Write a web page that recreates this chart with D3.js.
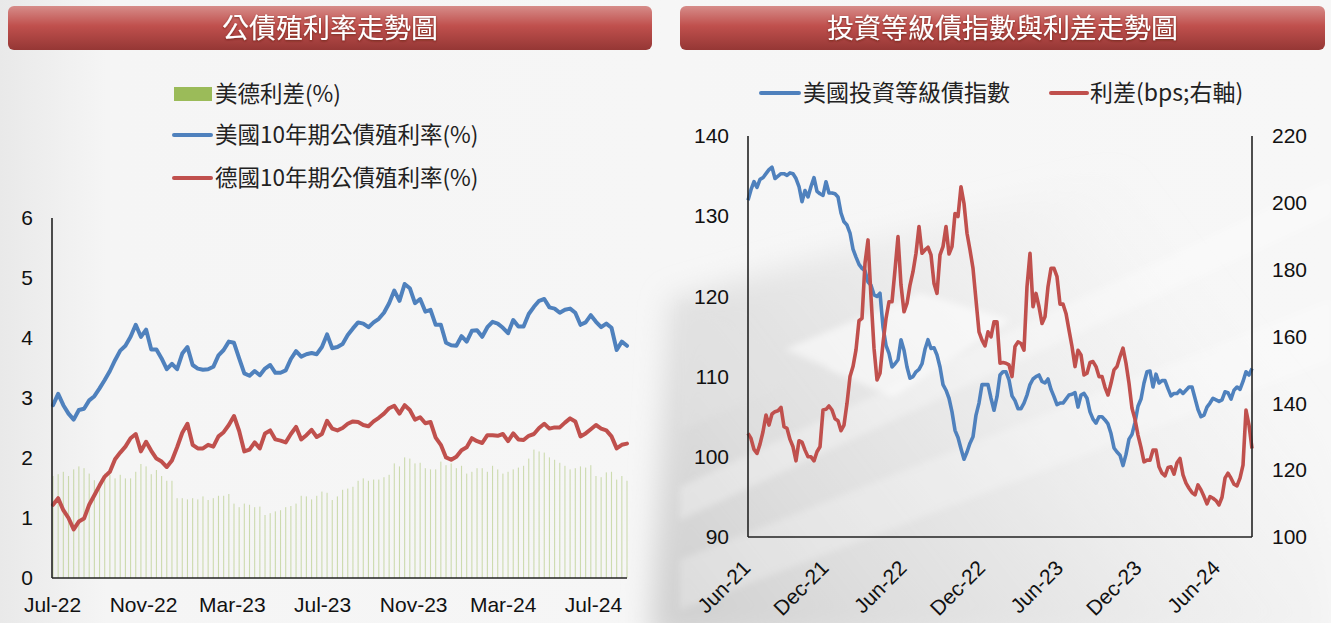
<!DOCTYPE html>
<html><head><meta charset="utf-8">
<script src="https://cdn.jsdelivr.net/npm/d3@7"></script>
<style>body{margin:0;background:#f3f3f3;overflow:hidden}svg{display:block}</style>
</head><body><svg id="c" width="1331" height="623"></svg>
<script>
// ---------- DATA: left chart (weekly, from 2022-07-01) ----------
const yieldStart = "2022-07-01";
const usYield = [
2.88,3.07,2.88,2.74,2.64,2.80,2.82,2.96,3.03,3.16,3.30,3.45,3.63,3.79,3.87,4.02,4.22,4.02,4.14,3.81,
3.81,3.66,3.48,3.57,3.48,3.74,3.85,3.55,3.49,3.47,3.48,3.52,3.71,3.80,3.94,3.92,3.66,3.41,3.37,3.45,
3.38,3.49,3.55,3.42,3.42,3.46,3.65,3.78,3.69,3.73,3.75,3.73,3.85,4.06,3.83,3.85,
3.90,4.05,4.16,4.26,4.24,4.18,4.26,4.32,4.42,4.58,4.79,4.62,4.90,4.83,4.58,4.65,4.44,4.47,4.22,4.22,
3.92,3.88,3.87,4.03,3.94,4.12,4.13,4.02,4.18,4.27,4.24,4.17,4.08,4.30,4.19,4.19,4.40,4.52,4.62,4.65,
4.51,4.49,4.42,4.47,4.49,4.42,4.22,4.26,4.38,4.27,4.18,4.24,4.17,3.80,3.94,3.87];
const deYield = [
1.22,1.33,1.13,1.00,0.81,0.94,0.99,1.22,1.38,1.54,1.69,1.77,1.98,2.09,2.19,2.33,2.40,2.11,2.27,2.12,
1.99,1.94,1.85,1.96,2.18,2.42,2.57,2.22,2.16,2.16,2.22,2.19,2.36,2.43,2.55,2.70,2.45,2.11,2.14,2.26,
2.16,2.41,2.46,2.31,2.29,2.26,2.40,2.52,2.31,2.38,2.47,2.35,2.40,2.62,2.49,2.46,
2.50,2.57,2.61,2.60,2.55,2.53,2.61,2.67,2.74,2.83,2.87,2.74,2.88,2.80,2.64,2.68,2.58,2.60,2.34,2.22,
2.01,1.97,2.02,2.13,2.18,2.33,2.28,2.25,2.38,2.38,2.37,2.40,2.28,2.41,2.31,2.30,2.37,2.40,2.50,2.57,
2.49,2.51,2.51,2.59,2.66,2.61,2.36,2.41,2.48,2.55,2.49,2.46,2.36,2.16,2.22,2.24];
const usDeSpread = [
1.70,1.73,1.77,1.70,1.81,1.86,1.83,1.74,1.63,1.58,1.74,1.72,1.66,1.72,1.66,1.66,1.77,1.90,1.86,1.73,
1.80,1.70,1.62,1.62,1.33,1.33,1.31,1.33,1.31,1.36,1.30,1.33,1.37,1.37,1.40,1.24,1.18,1.24,1.22,1.18,
1.19,1.05,1.08,1.11,1.13,1.18,1.20,1.24,1.37,1.36,1.31,1.37,1.44,1.42,1.30,1.36,
1.47,1.49,1.52,1.62,1.66,1.62,1.64,1.64,1.68,1.72,1.91,1.86,2.01,1.99,1.91,1.92,1.83,1.81,1.81,1.94,
1.88,1.91,1.83,1.87,1.74,1.77,1.83,1.83,1.77,1.87,1.81,1.74,1.77,1.81,1.84,1.87,1.99,2.14,2.11,2.09,
2.01,1.97,1.92,1.87,1.81,1.83,1.86,1.84,1.88,1.70,1.68,1.76,1.77,1.64,1.70,1.62];
const yieldTicks = ["2022-07-01","2022-11-01","2023-03-01","2023-07-01","2023-11-01","2024-03-01","2024-07-01"];
const yieldYTicks = [0,1,2,3,4,5,6];

// ---------- DATA: right chart (weekly, from 2021-06-01) ----------
const igStart = "2021-06-01";
const igIndex = [
132.0,133.3,134.3,133.6,134.6,134.8,135.3,135.8,136.1,134.7,135.0,135.3,135.3,135.1,135.4,135.3,134.7,133.7,131.8,133.2,
132.4,133.7,134.8,133.1,132.8,132.6,134.3,132.9,132.9,132.8,132.4,130.4,129.3,128.9,127.9,125.9,124.9,124.0,123.5,123.2,
121.8,121.4,120.2,120.0,120.4,116.2,113.9,112.9,111.2,111.6,112.1,114.6,113.3,111.2,109.8,110.0,110.6,110.9,111.6,113.4,
114.6,113.5,113.6,112.7,111.2,109.0,108.3,107.3,105.6,103.3,102.4,101.0,99.7,100.6,101.7,102.5,105.2,106.7,109.0,109.0,
109.0,107.3,105.8,107.5,110.2,
110.6,110.6,109.6,107.6,107.0,106.0,106.0,106.7,107.7,109.0,109.7,110.0,110.2,109.4,109.2,109.7,108.4,107.5,106.5,106.7,
106.7,107.2,107.7,107.8,108.0,106.2,107.7,107.9,107.3,105.6,104.7,104.2,105.0,105.0,104.6,104.1,102.9,101.1,100.6,100.2,
98.9,100.3,102.2,102.8,104.3,106.3,107.2,109.2,110.6,110.7,108.7,110.3,109.2,109.5,109.5,108.5,107.6,107.9,107.9,108.3,
107.9,108.3,108.7,108.7,107.3,105.9,105.0,105.2,106.2,106.7,107.3,107.1,106.9,107.1,108.1,108.0,107.2,108.3,108.7,108.4,
109.4,110.6,110.2,111.0];
const igSpread = [
131.0,129.5,126.2,125.0,127.8,131.5,136.5,133.5,136.8,137.5,137.8,138.8,133.0,132.5,129.2,127.0,122.8,128.8,128.4,126.0,
124.0,124.0,122.8,125.5,127.0,138.0,138.2,139.2,138.0,135.4,134.8,131.8,133.5,140.0,148.0,151.0,156.0,164.7,165.4,181.9,
188.9,171.9,156.5,147.0,149.0,158.0,165.4,170.4,170.4,179.9,189.9,175.4,167.4,169.9,175.4,179.4,184.9,192.9,184.9,185.9,
186.7,184.4,175.9,172.9,184.4,186.9,192.9,184.7,186.9,196.8,195.9,204.8,199.8,190.9,185.9,180.4,170.9,161.4,158.9,157.2,
161.4,159.9,164.4,164.4,152.0,
152.2,152.0,151.5,148.0,157.0,158.4,157.9,155.9,174.9,184.9,168.9,172.9,168.9,163.9,165.9,174.9,180.4,180.4,177.9,169.7,
169.7,166.9,161.9,157.0,151.0,155.9,154.5,148.5,149.0,152.2,152.5,151.0,148.0,148.0,144.8,142.5,146.0,150.0,151.0,154.0,
156.5,152.0,146.0,138.5,135.2,130.5,126.8,122.5,123.0,123.0,126.0,126.0,121.0,119.1,118.3,120.8,121.0,118.8,122.2,123.5,
118.6,116.1,114.6,113.3,112.6,115.6,114.1,112.1,109.9,112.1,111.6,110.9,109.6,111.9,117.6,119.1,117.6,115.8,115.3,117.6,
121.5,138.0,133.5,126.5];
const igTicks = ["2021-06-01","2021-12-01","2022-06-01","2022-12-01","2023-06-01","2023-12-01","2024-06-01"];
const igLeftTicks = [90,100,110,120,130,140];
const igRightTicks = [100,120,140,160,180,200,220];

const titleLeft = "公債殖利率走勢圖";
const titleRight = "投資等級債指數與利差走勢圖";
const legendLeft = ["美德利差(%)","美國10年期公債殖利率(%)","德國10年期公債殖利率(%)"];
const legendRight = ["美國投資等級債指數","利差(bps;右軸)"];

// ---------- DRAW ----------
const parse = d3.timeParse("%Y-%m-%d");
const fmt = d3.timeFormat("%b-%y");
const BLUE = "#4f81bd", RED = "#c0504d", GREEN = "#9bbb59";
const NUM = "'Liberation Sans', Arial, sans-serif";
const CJK = "'Noto Sans CJK TC', 'Noto Sans', sans-serif";
const svg = d3.select("#c");
const defs = svg.append("defs");

// background
const bg = defs.append("linearGradient").attr("id","bg").attr("x1",0).attr("y1",0).attr("x2",1).attr("y2",0);
bg.append("stop").attr("offset","0").attr("stop-color","#e9e9e9");
bg.append("stop").attr("offset","0.08").attr("stop-color","#f5f5f5");
bg.append("stop").attr("offset","0.5").attr("stop-color","#f6f6f6");
bg.append("stop").attr("offset","1").attr("stop-color","#f7f7f7");
svg.append("rect").attr("width",1331).attr("height",623).attr("fill","url(#bg)");
const blur = defs.append("filter").attr("id","blur").attr("x","-20%").attr("y","-20%").attr("width","140%").attr("height","140%");
blur.append("feGaussianBlur").attr("stdDeviation",14);
const blur2 = defs.append("filter").attr("id","blur2").attr("x","-20%").attr("y","-20%").attr("width","140%").attr("height","140%");
blur2.append("feGaussianBlur").attr("stdDeviation",3);
const gr = defs.append("linearGradient").attr("id","gr").attr("gradientUnits","userSpaceOnUse")
  .attr("x1",690).attr("y1",610).attr("x2",1180).attr("y2",230);
gr.append("stop").attr("offset","0").attr("stop-color","#cfcfcf").attr("stop-opacity",0.95);
gr.append("stop").attr("offset","0.5").attr("stop-color","#dedede").attr("stop-opacity",0.6);
gr.append("stop").attr("offset","1").attr("stop-color","#e8e8e8").attr("stop-opacity",0);
svg.append("polygon").attr("points","690,640 650,640 670,300 1331,110 1331,640").attr("fill","url(#gr)").attr("filter","url(#blur)");
const bands = [
  {p:[[783,350],[920,293],[1010,320],[893,397]], c:"#ffffff", o:0.55},
  {p:[[680,487],[1331,180],[1331,215],[680,520]], c:"#ffffff", o:0.3},
  {p:[[680,560],[1331,300],[1331,360],[680,610]], c:"#ffffff", o:0.25},
  {p:[[680,300],[830,367],[680,430]], c:"#e2e2e2", o:0.45}
];
svg.append("g").attr("filter","url(#blur2)").selectAll("polygon").data(bands).join("polygon")
  .attr("points",d=>d.p.map(q=>q.join(",")).join(" ")).attr("fill",d=>d.c).attr("opacity",d=>d.o);

// title bars
const tg = defs.append("linearGradient").attr("id","tg").attr("x1",0).attr("y1",0).attr("x2",0).attr("y2",1);
tg.append("stop").attr("offset","0").attr("stop-color","#d68c89");
tg.append("stop").attr("offset","0.45").attr("stop-color","#c0504d");
tg.append("stop").attr("offset","1").attr("stop-color","#953735");
const sh = defs.append("filter").attr("id","ts").attr("x","-10%").attr("y","-30%").attr("width","120%").attr("height","160%");
sh.append("feDropShadow").attr("dx",0).attr("dy",1).attr("stdDeviation",0.8).attr("flood-color","#5a1a18").attr("flood-opacity",0.7);
[[8,644,titleLeft],[680,645,titleRight]].forEach(([x,w,t])=>{
  svg.append("rect").attr("x",x).attr("y",6).attr("width",w).attr("height",44).attr("rx",6).attr("fill","url(#tg)");
  svg.append("text").attr("x",x+w/2).attr("y",28).attr("dy","0.36em").attr("text-anchor","middle")
    .attr("font-family",CJK).attr("font-size",27).attr("font-weight",400).attr("fill","#fff").attr("filter","url(#ts)").text(t);
});

// ---------- LEFT CHART ----------
const d0 = parse(yieldStart);
const yDates = usYield.map((_,i)=>d3.timeDay.offset(d0,7*i));
const xL = d3.scaleTime().domain([yDates[0], yDates[yDates.length-1]]).range([53,627]);
const yL = d3.scaleLinear().domain([0,6]).range([578,218]);
const gL = svg.append("g");
gL.append("g").selectAll("rect").data(usDeSpread).join("rect")
  .attr("x",(d,i)=>xL(yDates[i])-0.55).attr("width",1.1)
  .attr("y",d=>yL(d)).attr("height",d=>yL(0)-yL(d))
  .attr("fill",GREEN).attr("opacity",0.45);
const lineL = arr => d3.line().x((d,i)=>xL(yDates[i])).y(d=>yL(d))(arr);
gL.append("path").attr("d",lineL(deYield)).attr("fill","none").attr("stroke",RED).attr("stroke-width",4).attr("stroke-linejoin","round").attr("stroke-linecap","round");
gL.append("path").attr("d",lineL(usYield)).attr("fill","none").attr("stroke",BLUE).attr("stroke-width",4).attr("stroke-linejoin","round").attr("stroke-linecap","round");

const axL = gL.append("g").attr("transform","translate(52,0)")
  .call(d3.axisLeft(yL).tickValues(yieldYTicks).tickSize(0).tickPadding(19).tickFormat(d3.format("d")));
const axB = gL.append("g").attr("transform","translate(0,578)")
  .call(d3.axisBottom(xL.copy().range([52,627])).tickValues(yieldTicks.map(parse)).tickSize(0).tickPadding(19).tickFormat(fmt));
[axL,axB].forEach(a=>{
  a.select(".domain").attr("stroke","#222").attr("stroke-width",1.6);
  a.selectAll("text").attr("font-family",NUM).attr("font-size",21).attr("fill","#111");
});
axB.select(".domain").attr("d","M52,0H627");
axL.select(".domain").attr("d","M0,218V578");

// left legend
const lg = svg.append("g").attr("font-family",CJK).attr("font-size",22.5).attr("fill","#222");
lg.append("rect").attr("x",174).attr("y",87).attr("width",38).attr("height",14).attr("fill",GREEN);
lg.append("line").attr("x1",174).attr("x2",211).attr("y1",135).attr("y2",135).attr("stroke",BLUE).attr("stroke-width",4).attr("stroke-linecap","round");
lg.append("line").attr("x1",174).attr("x2",211).attr("y1",178).attr("y2",178).attr("stroke",RED).attr("stroke-width",4).attr("stroke-linecap","round");
[94,135,178].forEach((y,i)=>lg.append("text").attr("x",215).attr("y",y).attr("dy","0.36em").text(legendLeft[i]));

// ---------- RIGHT CHART ----------
const r0 = parse(igStart);
const rDates = igIndex.map((_,i)=>d3.timeDay.offset(r0,7*i));
const xR = d3.scaleTime().domain([rDates[0], rDates[rDates.length-1]]).range([748,1252]);
const yRL = d3.scaleLinear().domain([90,140]).range([537,136]);
const yRR = d3.scaleLinear().domain([100,220]).range([537,136]);
const gR = svg.append("g");
gR.append("path").attr("d",d3.line().x((d,i)=>xR(rDates[i])).y(d=>yRL(d))(igIndex))
  .attr("fill","none").attr("stroke",BLUE).attr("stroke-width",3.6).attr("stroke-linejoin","round");
gR.append("path").attr("d",d3.line().x((d,i)=>xR(rDates[i])).y(d=>yRR(d))(igSpread))
  .attr("fill","none").attr("stroke",RED).attr("stroke-width",3.6).attr("stroke-linejoin","round");

const aRL = gR.append("g").attr("transform","translate(748,0)")
  .call(d3.axisLeft(yRL).tickValues(igLeftTicks).tickSize(0).tickPadding(19));
const aRR = gR.append("g").attr("transform","translate(1252,0)")
  .call(d3.axisRight(yRR).tickValues(igRightTicks).tickSize(0).tickPadding(20));
const aRB = gR.append("g").attr("transform","translate(0,537)")
  .call(d3.axisBottom(xR).tickValues(igTicks.map(parse)).tickSize(0).tickFormat(fmt));
[aRL,aRR,aRB].forEach(a=>{
  a.select(".domain").attr("stroke","#222").attr("stroke-width",1.6);
  a.selectAll("text").attr("font-family",NUM).attr("font-size",21).attr("fill","#111");
});
aRB.select(".domain").attr("d","M748,0H1252");
aRL.select(".domain").attr("d","M0,136V537");
aRR.select(".domain").attr("d","M0,136V537");
aRB.selectAll("text").attr("x",0).attr("y",0).attr("dy","0.35em").attr("text-anchor","end")
  .attr("transform","translate(-2,27) rotate(-45)");

// right legend
const rg = svg.append("g").attr("font-family",CJK).attr("font-size",23).attr("fill","#222");
rg.append("line").attr("x1",761).attr("x2",799).attr("y1",93).attr("y2",93).attr("stroke",BLUE).attr("stroke-width",4).attr("stroke-linecap","round");
rg.append("text").attr("x",803).attr("y",93).attr("dy","0.36em").text(legendRight[0]);
rg.append("line").attr("x1",1051).attr("x2",1087).attr("y1",93).attr("y2",93).attr("stroke",RED).attr("stroke-width",4).attr("stroke-linecap","round");
rg.append("text").attr("x",1090).attr("y",93).attr("dy","0.36em").text(legendRight[1]);
</script></body></html>
